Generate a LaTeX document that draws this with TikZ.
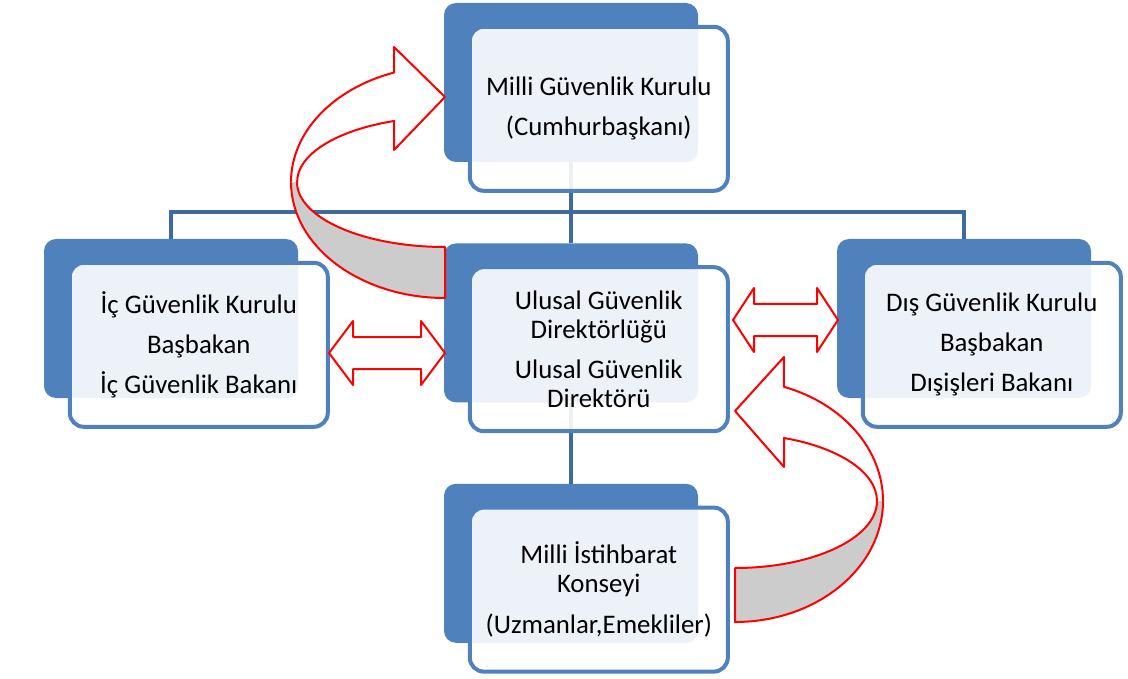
\documentclass[tikz,border=0pt]{standalone}
\usepackage{fontspec}
\setmainfont{Carlito}
\usetikzlibrary{positioning}
\definecolor{boxblue}{RGB}{79,129,189}
\definecolor{linkblue}{RGB}{62,106,160}
\definecolor{arrowred}{RGB}{255,0,0}

\begin{document}
\begin{tikzpicture}
[x=1pt, y=-1pt,
 back/.style={rectangle, rounded corners=12pt, fill=boxblue, inner sep=0pt,
   minimum width=254pt, minimum height=159pt},
 front/.style={rectangle, rounded corners=14pt, draw=boxblue, line width=4pt,
   fill=white, fill opacity=0.9, text opacity=1, inner sep=0pt,
   minimum width=258pt, minimum height=164pt, align=center,
   font=\fontsize{26.8}{29}\selectfont},
 conn/.style={draw=linkblue, line width=4.5pt},
 face/.style={draw=arrowred, line width=2pt, fill=white, line join=round},
 band/.style={draw=arrowred, line width=2pt, line join=round}]

\useasboundingbox (0,0) rectangle (1128,679);

% back plates
\node[back] (mgkback) at (571,82.5) {};
\node[back] (ugdback) [below = 81pt of mgkback] {};
\node[back] (icback) at (171,318.5) {};
\node[back] (disback) at (964,318.5) {};
\node[back] (mibback) [below = 81pt of ugdback] {};

% tree lines
\draw[conn] (mgkback.south) -- ++(0,50) coordinate (hub);
\draw[conn] (icback.north) |- (hub) -| (disback.north);
\draw[conn] (hub) -- (ugdback.north);
\draw[conn] (ugdback.south) -- (mibback.north);

% text boxes
\node[front] (mgk) [below right = 22pt and 24pt of mgkback.north west]
  {Milli Güvenlik Kurulu\\[11pt](Cumhurbaşkanı)};
\node[front] (ugd) [below right = 22pt and 24pt of ugdback.north west]
  {Ulusal Güvenlik\\Direktörlüğü\\[11pt]Ulusal Güvenlik\\Direktörü};
\node[front] (ic) [below right = 22pt and 24pt of icback.north west]
  {İç Güvenlik Kurulu\\[11pt]Başbakan\\[11pt]İç Güvenlik Bakanı};
\node[front] (dis) [below right = 22pt and 24pt of disback.north west]
  {Dış Güvenlik Kurulu\\[11pt]Başbakan\\[11pt]Dışişleri Bakanı};
\node[front] (mib) [below right = 22pt and 24pt of mibback.north west]
  {Milli İstihbarat\\Konseyi\\[12pt](Uzmanlar,Emekliler)};

% curved arrow, directorate up to the council
\fill[gray!40] (291,182) arc[start angle=180, end angle=90, x radius=154, y radius=116]
  -- (445,247) arc[start angle=90, end angle=180, x radius=148, y radius=65] -- cycle;
\draw[band] (291,182) arc[start angle=180, end angle=90, x radius=154, y radius=116]
  -- (445,247) arc[start angle=90, end angle=180, x radius=148, y radius=65];
\fill[white] (394,73) arc[start angle=-109.3, end angle=-180, x radius=154, y radius=116]
  -- (297,182) arc[start angle=180, end angle=249.8, x radius=148, y radius=65]
  -- (394,150) -- (445,97) -- (394,47) -- cycle;
\draw[face, fill=none] (291,182) arc[start angle=-180, end angle=-109.3, x radius=154, y radius=116]
  -- (394,47) -- (445,97) -- (394,150) -- (394,121)
  arc[start angle=249.8, end angle=180, x radius=148, y radius=65];

% curved arrow, intelligence council up to the directorate
\fill[gray!40] (883,501) arc[start angle=0, end angle=90, x radius=148, y radius=121]
  -- (735,568) arc[start angle=90, end angle=0, x radius=142, y radius=67] -- cycle;
\draw[band] (883,501) arc[start angle=0, end angle=90, x radius=148, y radius=121]
  -- (735,568) arc[start angle=90, end angle=0, x radius=142, y radius=67];
\fill[white] (784,387) arc[start angle=-70.7, end angle=0, x radius=148, y radius=121]
  -- (877,501) arc[start angle=0, end angle=-69.8, x radius=142, y radius=67]
  -- (784,467) -- (735,411) -- (784,357) -- cycle;
\draw[face, fill=none] (883,501) arc[start angle=0, end angle=-70.7, x radius=148, y radius=121]
  -- (784,357) -- (735,411) -- (784,467) -- (784,438)
  arc[start angle=-69.8, end angle=0, x radius=142, y radius=67];

% two-way arrows
\draw[face] (329,353) -- (353,321) -- (353,337) -- (421,337) -- (421,321) -- (445,353)
  -- (421,385) -- (421,369) -- (353,369) -- (353,385) -- cycle;
\draw[face] (733,320) -- (754,288) -- (754,304) -- (817,304) -- (817,288) -- (838,320)
  -- (817,352) -- (817,336) -- (754,336) -- (754,352) -- cycle;

\end{tikzpicture}
\end{document}
